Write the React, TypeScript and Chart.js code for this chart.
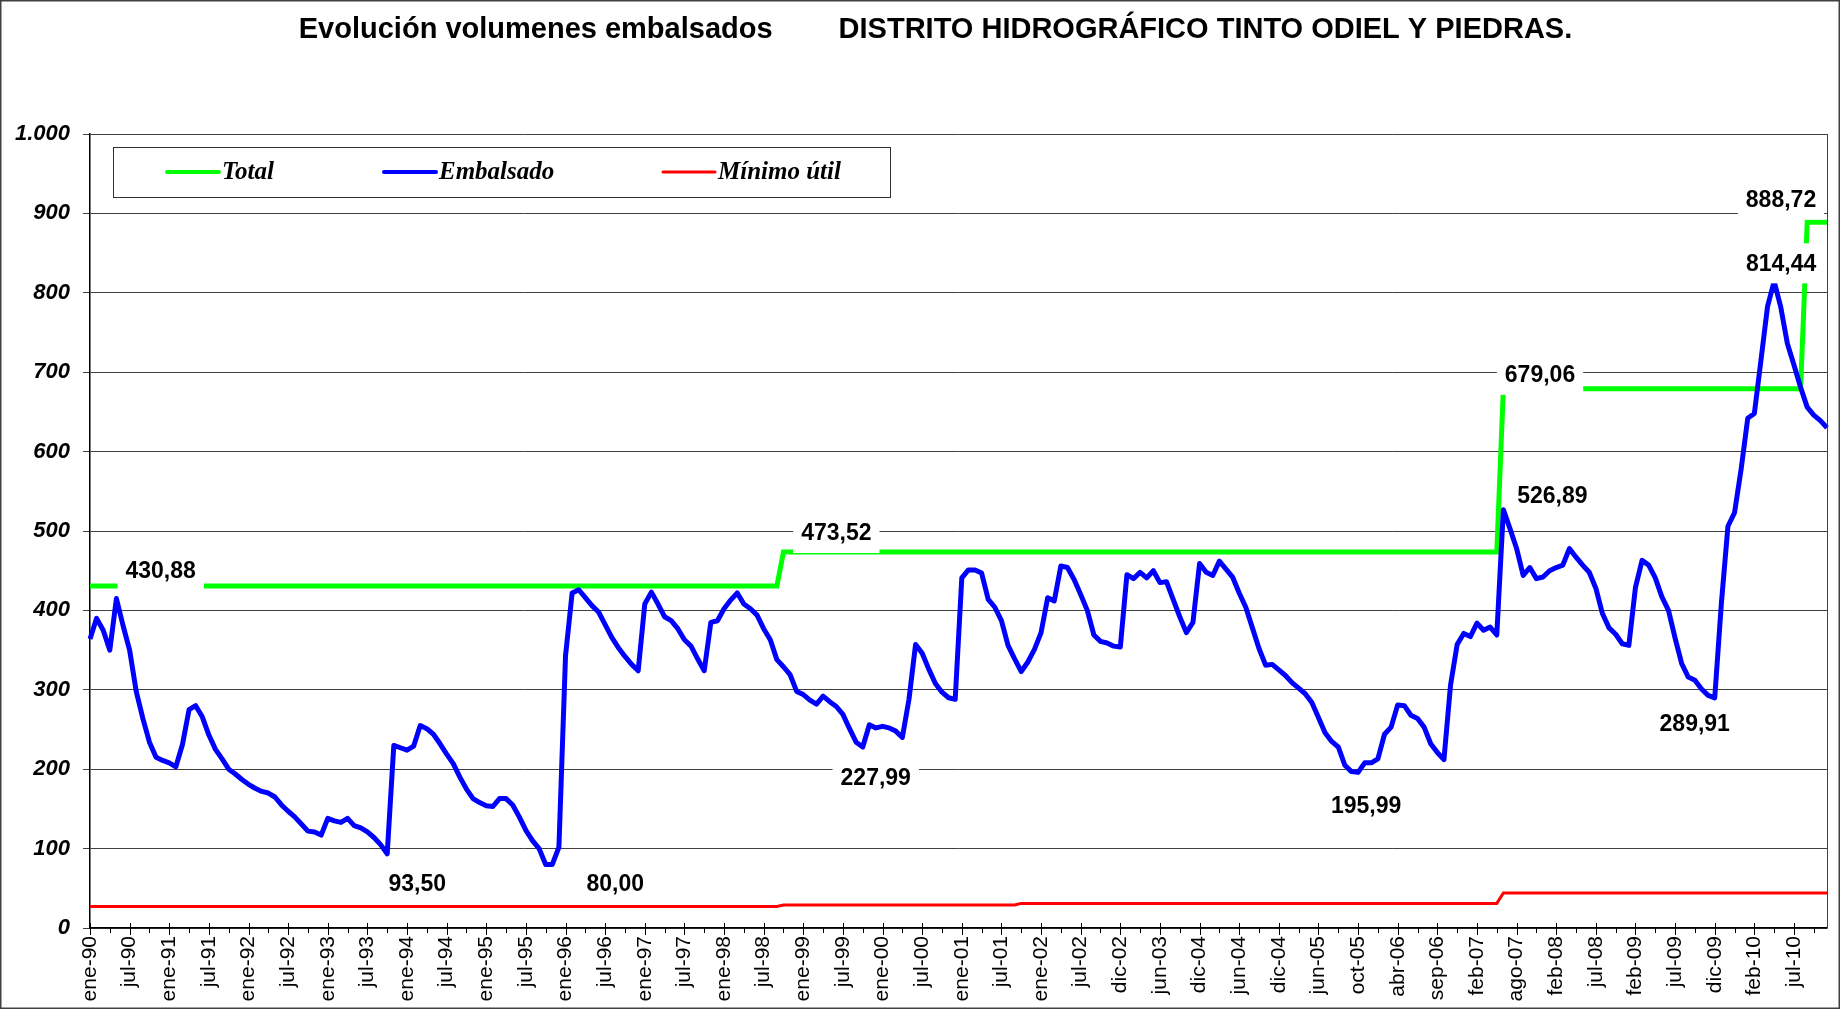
import { useEffect, useRef } from "react";
import { Chart, registerables } from "chart.js";

Chart.register(...registerables);

// ---------- DATA ----------
const POINTS_PER_LABEL = 6;

const tickLabels = [
  "ene-90", "jul-90", "ene-91", "jul-91", "ene-92", "jul-92", "ene-93", "jul-93",
  "ene-94", "jul-94", "ene-95", "jul-95", "ene-96", "jul-96", "ene-97", "jul-97",
  "ene-98", "jul-98", "ene-99", "jul-99", "ene-00", "jul-00", "ene-01", "jul-01",
  "ene-02", "jul-02", "dic-02", "jun-03", "dic-04", "jun-04", "dic-04", "jun-05",
  "oct-05", "abr-06", "sep-06", "feb-07", "ago-07", "feb-08", "jul-08", "feb-09",
  "jul-09", "dic-09", "feb-10", "jul-10",
];

// Volumen embalsado (hm3), one value per reading
const embalsado = [
  364, 390, 375, 350, 415, 381, 350, 298, 264, 234, 215, 211,
  208, 203, 231, 275, 280, 266, 243, 225, 213, 200, 194, 187,
  181, 176, 172, 170, 165, 155, 147, 140, 131, 122, 121, 117,
  138, 135, 133, 138, 129, 126, 121, 114, 105, 93.5, 230, 227,
  224, 229, 255, 251, 244, 232, 219, 207, 190, 175, 163, 158,
  154, 153, 163, 163, 155, 140, 123, 110, 100, 80, 80, 102,
  343, 422, 426, 416, 406, 398, 382, 366, 353, 342, 332, 324,
  408, 423, 408, 392, 387, 377, 363, 355, 339, 324, 385, 387,
  402, 413, 422, 408, 402, 394, 377, 363, 338, 329, 319, 298,
  294, 287, 282, 292, 285, 279, 269, 251, 234, 227.99, 256, 252,
  254, 252, 248, 240, 288, 357, 346, 326, 308, 297, 290, 288,
  441, 451, 451, 447, 414, 404, 387, 356, 339, 323, 335, 351,
  372, 416, 412, 456, 454, 439, 420, 400, 369, 361, 359, 355,
  354, 445, 440, 448, 441, 450, 435, 436, 414, 392, 372, 385,
  459, 448, 444, 462, 452, 442, 422, 404, 378, 352, 331, 332,
  325, 318, 309, 302, 295, 284, 265, 246, 235, 228, 205, 197,
  195.99, 208, 208, 213, 244, 253, 281, 280, 268, 264, 253, 232,
  221, 212, 306, 357, 371, 367, 384, 375, 379, 369, 526.89, 503,
  478, 444, 454, 440, 442, 450, 454, 457, 478, 467, 457, 448,
  428, 396, 378, 370, 358, 356, 429, 463, 457, 441, 417, 400,
  365, 333, 316, 312, 301, 293, 289.91, 408, 506, 523, 578, 642,
  648, 715, 783, 814.44, 782, 736, 709, 681, 656, 646, 639, 630,
];

// Capacidad total: value and the reading index where it starts
const totalValues = [430.88, 473.52, 679.06, 888.72];
const totalStart = [0, 105, 214, 260];

// Volumen mínimo útil: value and the reading index where it starts
const minimoValues = [27, 29, 31, 44];
const minimoStart = [0, 105, 141, 214];

const yTicks = [0, 100, 200, 300, 400, 500, 600, 700, 800, 900, 1000];

// Data labels shown on the chart (dataset, reading index, offset of label)
const dataLabels = [
  { ds: 0, idx: 11, dx: -2, dy: -15 },
  { ds: 0, idx: 113, dx: 0, dy: -19 },
  { ds: 0, idx: 220, dx: -3, dy: -14 },
  { ds: 0, idx: 263, dx: -46, dy: -23 },
  { ds: 1, idx: 214, dx: 49, dy: -14 },
  { ds: 1, idx: 255, dx: 7, dy: -18 },
  { ds: 1, idx: 45, dx: 30, dy: 30 },
  { ds: 1, idx: 70, dx: 63, dy: 19 },
  { ds: 1, idx: 117, dx: 13, dy: 31 },
  { ds: 1, idx: 192, dx: 8, dy: 33 },
  { ds: 1, idx: 246, dx: -20, dy: 26 },
];

// ---------- DERIVED ----------
const N = embalsado.length;
const categories = embalsado.map((_, i) =>
  i % POINTS_PER_LABEL === 0 ? tickLabels[i / POINTS_PER_LABEL] ?? "" : ""
);
function expandSteps(values: number[], starts: number[]) {
  return embalsado.map((_, i) => {
    let v = values[0];
    for (let k = 0; k < starts.length; k++) if (i >= starts[k]) v = values[k];
    return v;
  });
}
const totalSeries = expandSteps(totalValues, totalStart);
const minimoSeries = expandSteps(minimoValues, minimoStart);

const fmtNum = (v: number) => v.toFixed(2).replace(".", ",");
const fmtTick = (v: number) =>
  v >= 1000 ? `${Math.floor(v / 1000)}.${String(v % 1000).padStart(3, "0")}` : String(v);

const SANS = '"Liberation Sans", Arial, sans-serif';
const SERIF = '"Liberation Serif", "Times New Roman", serif';

const decorPlugin = {
  id: "decor",
  afterDatasetsDraw(chart: any) {
    const ctx = chart.ctx as CanvasRenderingContext2D;
    ctx.save();
    ctx.font = `bold 23px ${SANS}`;
    ctx.textAlign = "center";
    ctx.textBaseline = "middle";
    for (const l of dataLabels) {
      const meta = chart.getDatasetMeta(l.ds);
      const pt = meta.data[l.idx];
      if (!pt) continue;
      const value = chart.data.datasets[l.ds].data[l.idx] as number;
      const text = fmtNum(value);
      const cx = pt.x + l.dx;
      const cy = pt.y + l.dy;
      const w = ctx.measureText(text).width + 16;
      const h = 40;
      ctx.fillStyle = "#fff";
      ctx.fillRect(cx - w / 2, cy - h / 2, w, h);
      ctx.fillStyle = "#000";
      ctx.fillText(text, cx, cy + 1);
    }
    ctx.restore();
  },
  afterDraw(chart: any) {
    const ctx = chart.ctx as CanvasRenderingContext2D;
    const area = chart.chartArea;
    const xs = chart.scales.x;
    ctx.save();

    // right border of plot area
    ctx.strokeStyle = "#404040";
    ctx.lineWidth = 1;
    ctx.beginPath();
    ctx.moveTo(Math.round(area.right) + 0.5, area.top);
    ctx.lineTo(Math.round(area.right) + 0.5, area.bottom);
    ctx.stroke();

    // x tick marks
    ctx.strokeStyle = "#000";
    ctx.lineWidth = 1;
    for (let i = 0; i < N; i++) {
      const x = Math.round(xs.getPixelForValue(i)) + 0.5;
      if (i % POINTS_PER_LABEL === 0) {
        ctx.beginPath();
        ctx.moveTo(x, area.bottom - 5);
        ctx.lineTo(x, area.bottom + 7);
        ctx.stroke();
      } else if (i % (POINTS_PER_LABEL / 2) === 0) {
        ctx.beginPath();
        ctx.moveTo(x, area.bottom);
        ctx.lineTo(x, area.bottom + 5);
        ctx.stroke();
      }
    }

    // title
    ctx.fillStyle = "#000";
    ctx.font = `bold 29px ${SANS}`;
    ctx.textBaseline = "middle";
    ctx.textAlign = "left";
    const t1 = "Evolución volumenes embalsados";
    const t2 = "DISTRITO HIDROGRÁFICO TINTO ODIEL Y PIEDRAS.";
    const w1 = ctx.measureText(t1).width;
    const w2 = ctx.measureText(t2).width;
    const gap = 66;
    const start = 935.5 - (w1 + gap + w2) / 2;
    ctx.fillText(t1, start, 30);
    ctx.fillText(t2, start + w1 + gap, 30);

    // legend
    const lx = 113.5, ly = 147.5, lw = 777, lh = 50;
    ctx.fillStyle = "#fff";
    ctx.fillRect(lx, ly, lw, lh);
    ctx.strokeStyle = "#303030";
    ctx.lineWidth = 1;
    ctx.strokeRect(lx, ly, lw, lh);
    const items = [
      { text: "Total", color: "#00ff00", x: 167, w: 4 },
      { text: "Embalsado", color: "#0000ff", x: 384, w: 4 },
      { text: "Mínimo útil", color: "#ff0000", x: 663, w: 3 },
    ];
    ctx.font = `italic bold 25px ${SERIF}`;
    ctx.textBaseline = "middle";
    for (const it of items) {
      ctx.strokeStyle = it.color;
      ctx.lineWidth = it.w;
      ctx.lineCap = "round";
      ctx.beginPath();
      ctx.moveTo(it.x, 172);
      ctx.lineTo(it.x + 52, 172);
      ctx.stroke();
      ctx.fillStyle = "#000";
      ctx.fillText(it.text, it.x + 55, 173);
    }

    // outer frame
    ctx.strokeStyle = "#404040";
    ctx.lineWidth = 1.5;
    ctx.strokeRect(0.75, 0.75, chart.width - 1.5, chart.height - 1.5);
    ctx.restore();
  },
};

export default function App() {
  const ref = useRef<HTMLCanvasElement>(null);
  useEffect(() => {
    document.body.style.margin = "0";
    const canvas = ref.current!;
    const chart = new Chart(canvas, {
      type: "line",
      data: {
        labels: categories,
        datasets: [
          {
            label: "Total",
            data: totalSeries,
            borderColor: "#00ff00",
            borderWidth: 5,
            pointRadius: 0,
            order: 1,
          },
          {
            label: "Embalsado",
            data: embalsado,
            borderColor: "#0000ff",
            borderWidth: 5,
            pointRadius: 0,
            borderJoinStyle: "round",
            order: 0,
          },
          {
            label: "Mínimo útil",
            data: minimoSeries,
            borderColor: "#ff0000",
            borderWidth: 3,
            pointRadius: 0,
            order: 2,
          },
        ],
      },
      options: {
        animation: false,
        responsive: false,
        maintainAspectRatio: false,
        devicePixelRatio: 1,
        layout: { padding: { top: 134, right: 13, left: 0, bottom: 0 } },
        plugins: {
          legend: { display: false },
          title: { display: false },
          tooltip: { enabled: false },
        },
        elements: { line: { tension: 0 }, point: { radius: 0 } },
        scales: {
          x: {
            type: "category",
            grid: { display: false, drawTicks: false },
            border: { display: true, color: "#000", width: 1.5 },
            ticks: {
              autoSkip: false,
              maxRotation: 90,
              minRotation: 90,
              padding: 8,
              color: "#000",
              font: { family: SANS, size: 21 },
              callback: (_v: any, i: number) => categories[i],
            },
            afterFit: (s: any) => {
              s.height = 81;
              s.paddingLeft = 0;
              s.paddingRight = 0;
            },
          },
          y: {
            min: 0,
            max: 1000,
            afterBuildTicks: (s: any) => {
              s.ticks = yTicks.map((v) => ({ value: v }));
            },
            ticks: {
              stepSize: 100,
              padding: 13,
              color: "#000",
              font: { family: SANS, size: 22, weight: "bold", style: "italic" },
              callback: (v: any) => fmtTick(Number(v)),
            },
            grid: { color: "#404040", lineWidth: 1, tickLength: 7 },
            border: { color: "#000", width: 1.5 },
            afterFit: (s: any) => {
              s.width = 90;
              s.paddingTop = 0;
              s.paddingBottom = 0;
            },
          },
        },
      },
      plugins: [decorPlugin],
    } as any);
    return () => chart.destroy();
  }, []);
  return (
    <div style={{ width: 1840, height: 1009, background: "#fff" }}>
      <canvas ref={ref} width={1840} height={1009} style={{ display: "block" }} />
    </div>
  );
}
